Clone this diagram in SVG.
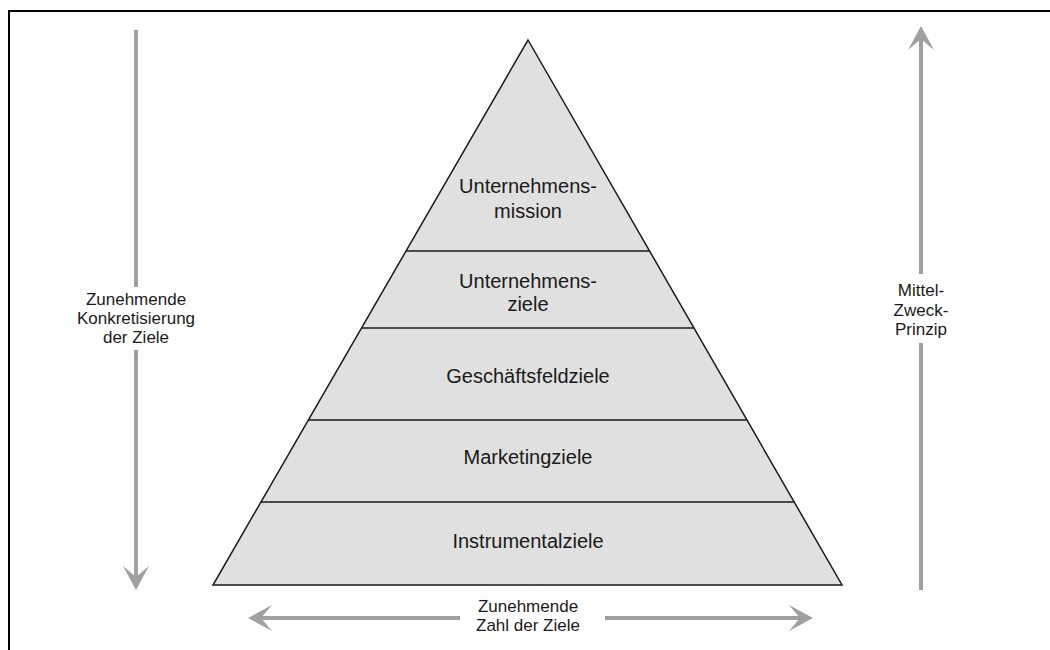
<svg xmlns="http://www.w3.org/2000/svg" width="1050" height="650" viewBox="0 0 1050 650">
  <style>
    .frame { fill: none; stroke: #000; stroke-width: 2; }
    .level { fill: #e0e0e0; stroke: #1a1a1a; stroke-width: 1.5; }
    .divider { stroke: #1a1a1a; stroke-width: 1.5; }
    .shaft { stroke: #a0a0a0; stroke-width: 4; fill: none; }
    .head { fill: #a0a0a0; }
    .label { font-family: "Liberation Sans", Arial, sans-serif; font-size: 17px; fill: #1a1a1a; text-anchor: middle; }
    .level-label { font-size: 20px; }
  </style>
  <rect width="1050" height="650" fill="#fff"/>

  <!-- page frame: top and left edges only -->
  <path class="frame" d="M1050 11 H9 V650"/>

  <!-- pyramid -->
  <g id="pyramid">
    <polygon class="level" points="528,40 842,585 213,585"/>
  </g>
  <g id="dividers">
    <line class="divider" x1="406" y1="251" x2="650" y2="251"/>
    <line class="divider" x1="362" y1="328" x2="694" y2="328"/>
    <line class="divider" x1="309" y1="420" x2="747" y2="420"/>
    <line class="divider" x1="261" y1="502" x2="795" y2="502"/>
  </g>

  <g id="mission"><text class="label level-label" x="528" y="193">Unternehmens-</text><text class="label level-label" x="528" y="218">mission</text></g>
  <g id="unternehmensziele"><text class="label level-label" x="528" y="288">Unternehmens-</text><text class="label level-label" x="528" y="311">ziele</text></g>
  <g id="geschaeftsfeldziele"><text class="label level-label" x="528" y="383">Geschäftsfeldziele</text></g>
  <g id="marketingziele"><text class="label level-label" x="528" y="464">Marketingziele</text></g>
  <g id="instrumentalziele"><text class="label level-label" x="528" y="548">Instrumentalziele</text></g>

  <!-- side annotations with arrows -->
  <g id="connectors">
    <!-- left: downward -->
    <line class="shaft" x1="136" y1="30" x2="136" y2="287"/>
    <line class="shaft" x1="136" y1="350" x2="136" y2="578"/>
    <polygon class="head" points="136,590 123,566 136,577 149,566"/>
    <!-- right: upward -->
    <line class="shaft" x1="921" y1="590" x2="921" y2="343"/>
    <line class="shaft" x1="921" y1="274" x2="921" y2="38"/>
    <polygon class="head" points="921,26 908,50 921,39 934,50"/>
    <!-- bottom: both directions -->
    <line class="shaft" x1="260" y1="618" x2="460" y2="618"/>
    <line class="shaft" x1="605" y1="618" x2="800" y2="618"/>
    <polygon class="head" points="248,618 272,605 261,618 272,631"/>
    <polygon class="head" points="813,618 789,605 800,618 789,631"/>
  </g>

  <g id="label-left">
    <text class="label" x="136" y="305">Zunehmende</text>
    <text class="label" x="136" y="324">Konkretisierung</text>
    <text class="label" x="136" y="343">der Ziele</text>
  </g>
  <g id="label-right">
    <text class="label" x="921" y="296">Mittel-</text>
    <text class="label" x="921" y="316">Zweck-</text>
    <text class="label" x="921" y="335">Prinzip</text>
  </g>
  <g id="label-bottom">
    <text class="label" x="528" y="612">Zunehmende</text>
    <text class="label" x="528" y="631">Zahl der Ziele</text>
  </g>
</svg>
